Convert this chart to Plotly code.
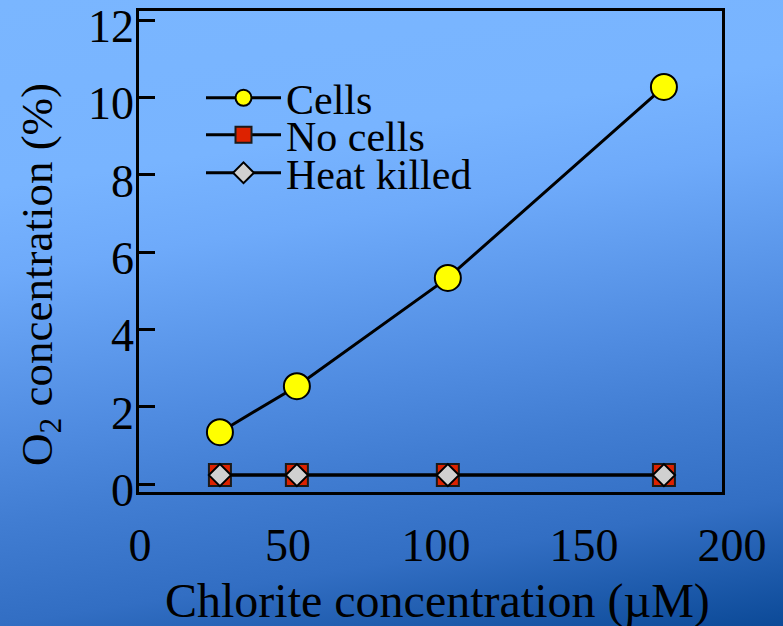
import base64
import plotly.graph_objects as go

# ---- data ----
chlorite_um = [27, 53, 104, 177]
o2_cells = [1.34, 2.53, 5.33, 10.27]
o2_no_cells = [0.23, 0.23, 0.23, 0.23]
o2_heat_killed = [0.23, 0.23, 0.23, 0.23]
series_names = ["Cells", "No cells", "Heat killed"]
y_ticks = [0, 2, 4, 6, 8, 10, 12]
x_ticks = [0, 50, 100, 150, 200]

W, H = 783, 626
FONT = "Liberation Serif, Times New Roman, serif"

# background gradient (SVG)
svg = (
    f"<svg xmlns='http://www.w3.org/2000/svg' width='{W}' height='{H}' preserveAspectRatio='none'>"
    "<defs><linearGradient id='g' x1='0' y1='0' x2='0.24' y2='1.2'>"
    "<stop offset='0' stop-color='#7AB6FF'/>"
    "<stop offset='0.24' stop-color='#78B4FF'/>"
    "<stop offset='0.35' stop-color='#6EAAFA'/>"
    "<stop offset='0.56' stop-color='#508CE1'/>"
    "<stop offset='0.67' stop-color='#417DD2'/>"
    "<stop offset='0.80' stop-color='#326EC3'/>"
    "<stop offset='0.96' stop-color='#0C4A98'/>"
    "<stop offset='1' stop-color='#0A4696'/>"
    "</linearGradient></defs>"
    f"<rect width='{W}' height='{H}' fill='url(#g)'/></svg>"
)
bg_src = "data:image/svg+xml;base64," + base64.b64encode(svg.encode()).decode()

# pixel geometry
x_left, x_right = 139, 722
y_top, y_bot = 11, 492
x0_px, x_scale = 140.0, 2.96
xr_main = [(x_left - x0_px) / x_scale, (x_right - x0_px) / x_scale]
x_lab_right = 742
xr_lab = [(x_left - x0_px) / x_scale, (x_lab_right - x0_px) / x_scale]
yr_main = [(484 - y_bot) / 38.667, (484 - y_top) / 38.667]

fig = go.Figure()
fig.add_trace(go.Scatter(
    x=chlorite_um, y=o2_cells, name=series_names[0], mode="lines+markers",
    line=dict(color="black", width=3),
    marker=dict(symbol="circle", size=26, color="#FFFF00", line=dict(color="black", width=2)),
    legend="legend",
))
fig.add_trace(go.Scatter(
    x=chlorite_um, y=o2_no_cells, name=series_names[1], mode="lines+markers",
    line=dict(color="black", width=3),
    marker=dict(symbol="square", size=22, color="#DD2200", line=dict(color="#1a1a1a", width=2)),
    legend="legend2",
))
fig.add_trace(go.Scatter(
    x=chlorite_um, y=o2_heat_killed, name=series_names[2], mode="lines+markers",
    line=dict(color="black", width=3),
    marker=dict(symbol="diamond", size=17, color="#D0D0D0", line=dict(color="black", width=2)),
    legend="legend3",
))
# helper (empty) traces for the tick-label axes
fig.add_trace(go.Scatter(x=[], y=[], xaxis="x2", yaxis="y", showlegend=False,
                         hoverinfo="skip", legend="legend3"))
fig.add_trace(go.Scatter(x=[], y=[], xaxis="x", yaxis="y3", showlegend=False,
                         hoverinfo="skip", legend="legend3"))

leg_common = dict(
    font=dict(family=FONT, size=42, color="black"),
    bgcolor="rgba(0,0,0,0)", borderwidth=0, itemwidth=75,
    xanchor="left", yanchor="middle", xref="paper", yref="paper",
    visible=True,
)
leg_x = 201 / W
fig.update_layout(
    showlegend=True,
    legend=dict(x=leg_x, y=1 - 98 / H, **leg_common),
    legend2=dict(x=leg_x, y=1 - 135 / H, **leg_common),
    legend3=dict(x=leg_x, y=1 - 173 / H, **leg_common),
)

fig.update_layout(
    width=W, height=H,
    margin=dict(l=0, r=0, t=0, b=0, autoexpand=False),
    paper_bgcolor="#5A96E6",
    plot_bgcolor="rgba(0,0,0,0)",
    font=dict(family=FONT, color="black"),
    images=[dict(source=bg_src, xref="paper", yref="paper", x=0, y=1,
                 sizex=1, sizey=1, sizing="stretch", layer="below",
                 xanchor="left", yanchor="top")],
    xaxis=dict(
        domain=[x_left / W, x_right / W], range=xr_main, automargin=False,
        showline=True, linecolor="black", linewidth=3, mirror=True,
        ticks="", showticklabels=False, showgrid=False, zeroline=False,
    ),
    xaxis2=dict(
        domain=[x_left / W, x_lab_right / W], range=xr_lab, anchor="y", automargin=False,
        tickvals=x_ticks, ticks="", showline=False, showgrid=False, zeroline=False,
        tickfont=dict(family=FONT, size=46, color="black"),
        ticklabelstandoff=22, ticklabeloverflow="allow",
    ),
    yaxis=dict(
        domain=[1 - y_bot / H, 1 - y_top / H], automargin=False,
        range=yr_main,
        tickvals=y_ticks, ticks="inside", ticklen=16, tickwidth=3, tickcolor="black",
        showline=True, linecolor="black", linewidth=3, mirror=True,
        showgrid=False, zeroline=False, showticklabels=False,
    ),
    yaxis3=dict(
        overlaying="y", side="left", anchor="free", position=(x_left - 5) / W,
        automargin=False, range=yr_main, tickvals=y_ticks, ticks="",
        showline=False, showgrid=False, zeroline=False,
        tickfont=dict(family=FONT, size=46, color="black"),
        ticklabelshift=6, ticklabeloverflow="allow",
    ),
    yaxis2=dict(
        overlaying="y", side="right", anchor="x", automargin=False,
        range=[-0.075, 12.0], tickvals=y_ticks,
        ticks="inside", ticklen=15, tickwidth=3, tickcolor="black",
        showticklabels=False, showline=False, showgrid=False, zeroline=False,
    ),
    annotations=[
        dict(text="O<sub>2</sub> concentration (%)", textangle=-90,
             xref="paper", yref="paper", x=40 / W, y=1 - 275 / H,
             xanchor="center", yanchor="middle", showarrow=False,
             font=dict(family=FONT, size=45, color="black")),
        dict(text="Chlorite concentration (µM)",
             xref="paper", yref="paper", x=438 / W, y=1 - 601 / H,
             xanchor="center", yanchor="middle", showarrow=False,
             font=dict(family=FONT, size=48, color="black")),
    ],
)

fig.write_html("out.html")
